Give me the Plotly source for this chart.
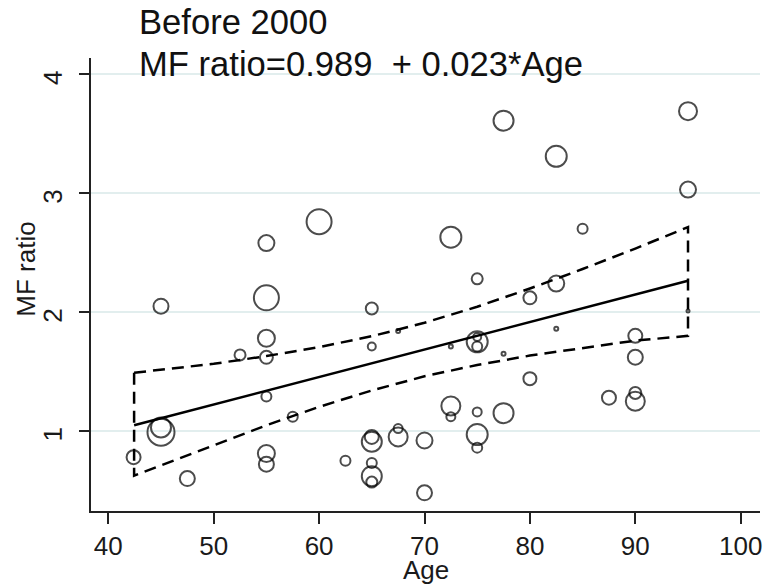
import plotly.graph_objects as go

# ---- data ----
age = [42.4, 45, 45, 45, 47.5, 52.5, 55, 55, 55, 55, 55, 55, 55, 57.5, 60, 62.5,
       65, 65, 65, 65, 65, 65, 65, 67.5, 67.5, 67.5, 70, 70, 72.5, 72.5, 72.5, 72.5,
       75, 75, 75, 75, 75, 75, 75, 77.5, 77.5, 77.5, 80, 80, 82.5, 82.5, 82.5, 85,
       87.5, 90, 90, 90, 90, 95, 95, 95]
mf_ratio = [0.78, 2.05, 1.03, 0.99, 0.60, 1.64, 2.58, 2.12, 1.78, 1.62, 1.29, 0.81, 0.72, 1.12, 2.76, 0.75,
            2.03, 1.71, 0.95, 0.91, 0.73, 0.62, 0.57, 1.84, 1.02, 0.95, 0.92, 0.48, 2.63, 1.71, 1.21, 1.12,
            2.28, 1.79, 1.75, 1.71, 1.16, 0.97, 0.86, 3.61, 1.65, 1.15, 2.12, 1.44, 3.31, 2.24, 1.86, 2.70,
            1.28, 1.80, 1.62, 1.32, 1.25, 3.69, 3.03, 2.01]
weight = [16, 17, 22, 29, 17, 13, 18, 27, 19, 15, 12, 19, 17, 12, 27, 12,
          14, 10, 16, 22, 12, 22, 13, 6, 11, 21, 18, 17, 23, 6, 21, 11,
          13, 10, 23, 12, 11, 23, 12, 22, 6, 22, 15, 15, 23, 18, 6, 12,
          16, 16, 17, 14, 21, 20, 18, 5]

fit_age = [42.45, 95]
fit_mf = [1.048, 2.263]

ci_age = [42.45, 50, 55, 60, 65, 70, 75, 80, 85, 90, 95]
ci_upper = [1.49, 1.565, 1.63, 1.705, 1.797, 1.91, 2.045, 2.198, 2.362, 2.534, 2.715]
ci_lower = [0.625, 0.881, 1.048, 1.203, 1.341, 1.46, 1.555, 1.634, 1.70, 1.76, 1.80]

x_ticks = [40, 50, 60, 70, 80, 90, 100]
y_ticks = [1, 2, 3, 4]

title_line1 = "Before 2000"
title_line2 = "MF ratio=0.989  + 0.023*Age"

FONT = "Liberation Sans, Arial, sans-serif"

fig = go.Figure()

# CI outline (closed dashed polygon)
ci_x = ci_age + ci_age[::-1] + [ci_age[0]]
ci_y = ci_upper + ci_lower[::-1] + [ci_upper[0]]
fig.add_trace(go.Scatter(x=ci_x, y=ci_y, mode="lines",
                         line=dict(color="black", width=2.5, dash="12px,7px"),
                         hoverinfo="skip", showlegend=False))

fig.add_trace(go.Scatter(x=fit_age, y=fit_mf, mode="lines",
                         line=dict(color="black", width=2.5),
                         showlegend=False))

fig.add_trace(go.Scatter(x=age, y=mf_ratio, mode="markers",
                         marker=dict(symbol="circle-open", size=[w - 2 for w in weight],
                                     color="black", line=dict(width=2, color="black")),
                         showlegend=False))

fig.update_layout(
    width=769, height=588,
    margin=dict(l=91, r=7, t=58, b=77),
    paper_bgcolor="white", plot_bgcolor="white",
    font=dict(family=FONT, size=26, color="#1a1a1a"),
    xaxis=dict(range=[38.36, 101.83], tickvals=x_ticks, ticks="outside", ticklen=11,
               tickwidth=2, tickcolor="#222", showline=True, linecolor="#222", linewidth=2,
               showgrid=False, zeroline=False, tickfont=dict(size=26)),
    yaxis=dict(range=[0.327, 4.137], tickvals=y_ticks, ticks="outside", ticklen=10,
               tickwidth=2, tickcolor="#222", showline=True, linecolor="#222", linewidth=2,
               showgrid=True, gridcolor="#e2eeee", gridwidth=1.5, zeroline=False,
               tickangle=-89.9, tickfont=dict(size=26), ticklabelstandoff=25),
    annotations=[
        dict(text=title_line1, xref="paper", yref="paper", x=0.0686, y=1.0795,
             xanchor="left", yanchor="middle", showarrow=False,
             font=dict(size=34.6, color="#111")),
        dict(text=title_line2, xref="paper", yref="paper", x=0.0686, y=0.9868,
             xanchor="left", yanchor="middle", showarrow=False,
             font=dict(size=34.6, color="#111")),
        dict(text="Age", xref="paper", yref="paper", x=0.5, y=-0.13,
             xanchor="center", yanchor="middle", showarrow=False,
             font=dict(size=26)),
        dict(text="MF ratio", xref="paper", yref="paper", x=-0.0984, y=0.533,
             xanchor="center", yanchor="middle", showarrow=False, textangle=-90,
             font=dict(size=26)),
    ],
)

fig.write_html("out.html", post_script="document.body.style.margin='0px';",
               config={"displayModeBar": False})
